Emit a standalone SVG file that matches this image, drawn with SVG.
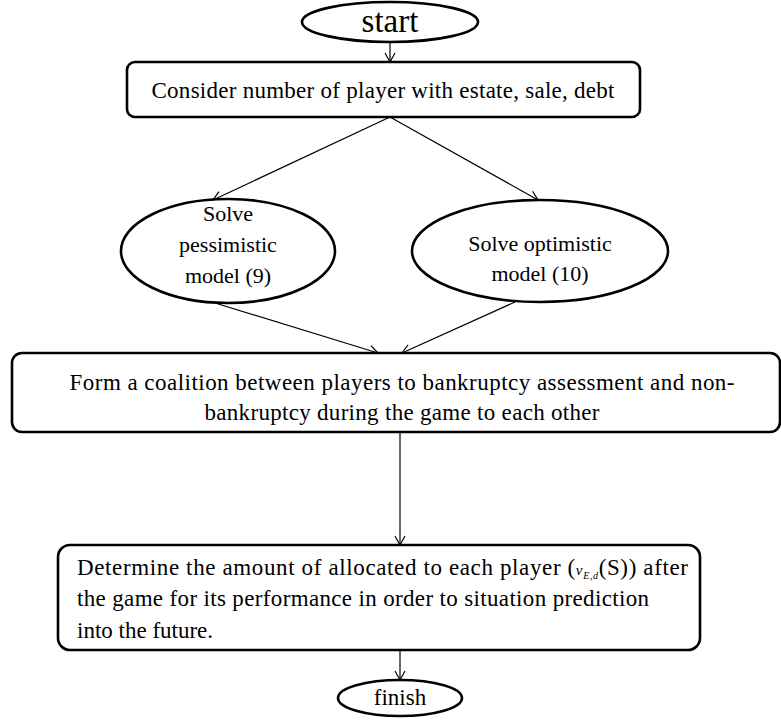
<svg xmlns="http://www.w3.org/2000/svg" width="781" height="724" viewBox="0 0 781 724">
<style>
.n{fill:#fff;stroke:#000;stroke-width:2.6}
.c{fill:none;stroke:#000;stroke-width:1.2}
text{font-family:"Liberation Serif","Times New Roman",serif;fill:#000}
.m{text-anchor:middle}
.f23{font-size:23px}
.f22{font-size:22px}
.f33{font-size:33px}
</style>
<defs>
<marker id="a" markerWidth="12" markerHeight="12" refX="10" refY="6" orient="auto" markerUnits="userSpaceOnUse">
<path d="M1,1 L10,6 L1,11" fill="none" stroke="#000" stroke-width="1.2"/>
</marker>
</defs>
<g id="connectors">
<line class="c" x1="390" y1="42" x2="390" y2="62" marker-end="url(#a)"/>
<line class="c" x1="390" y1="117" x2="213" y2="200" marker-end="url(#a)"/>
<line class="c" x1="390" y1="117" x2="538" y2="200" marker-end="url(#a)"/>
<line class="c" x1="215" y1="303" x2="378" y2="353" marker-end="url(#a)"/>
<line class="c" x1="515" y1="302" x2="402" y2="353" marker-end="url(#a)"/>
<line class="c" x1="400" y1="432" x2="400" y2="545" marker-end="url(#a)"/>
<line class="c" x1="400" y1="650" x2="400" y2="680" marker-end="url(#a)"/>
</g>
<g id="start">
<ellipse class="n" cx="390" cy="22" rx="88" ry="20"/>
<text class="m f33" x="390" y="32">start</text>
</g>
<g id="consider">
<rect class="n" x="127" y="62" width="513" height="55" rx="8"/>
<text class="m f23" x="383" y="98" textLength="463" lengthAdjust="spacing">Consider number of player with estate, sale, debt</text>
</g>
<g id="pessimistic">
<ellipse class="n" cx="228" cy="251" rx="107" ry="52"/>
<text class="m f22" x="228" y="221">Solve</text>
<text class="m f22" x="228" y="252">pessimistic</text>
<text class="m f22" x="228" y="283">model (9)</text>
</g>
<g id="optimistic">
<ellipse class="n" cx="540" cy="251" rx="128" ry="51"/>
<text class="m f22" x="540" y="251">Solve optimistic</text>
<text class="m f22" x="540" y="281">model (10)</text>
</g>
<g id="coalition">
<rect class="n" x="12" y="353" width="768" height="79" rx="10"/>
<text class="m f23" x="402" y="390" textLength="665" lengthAdjust="spacing">Form a coalition between players to bankruptcy assessment and  non-</text>
<text class="m f23" x="402" y="420" textLength="395" lengthAdjust="spacing">bankruptcy  during the game to each other</text>
</g>
<g id="determine">
<rect class="n" x="58" y="545" width="642" height="105" rx="12"/>
<text class="f23" x="77" y="575" textLength="611" lengthAdjust="spacing">Determine the amount of allocated to each player (<tspan font-style="italic" font-size="15px">v</tspan><tspan font-style="italic" font-size="10px" dy="4">E,d</tspan><tspan dy="-4">(S)) after</tspan></text>
<text class="f23" x="77" y="606" textLength="572" lengthAdjust="spacing">the game  for its performance  in order to situation  prediction</text>
<text class="f23" x="77" y="638">into the future.</text>
</g>
<g id="finish">
<ellipse class="n" cx="400" cy="698" rx="62" ry="18"/>
<text class="m f23" x="400" y="705">finish</text>
</g>
</svg>
